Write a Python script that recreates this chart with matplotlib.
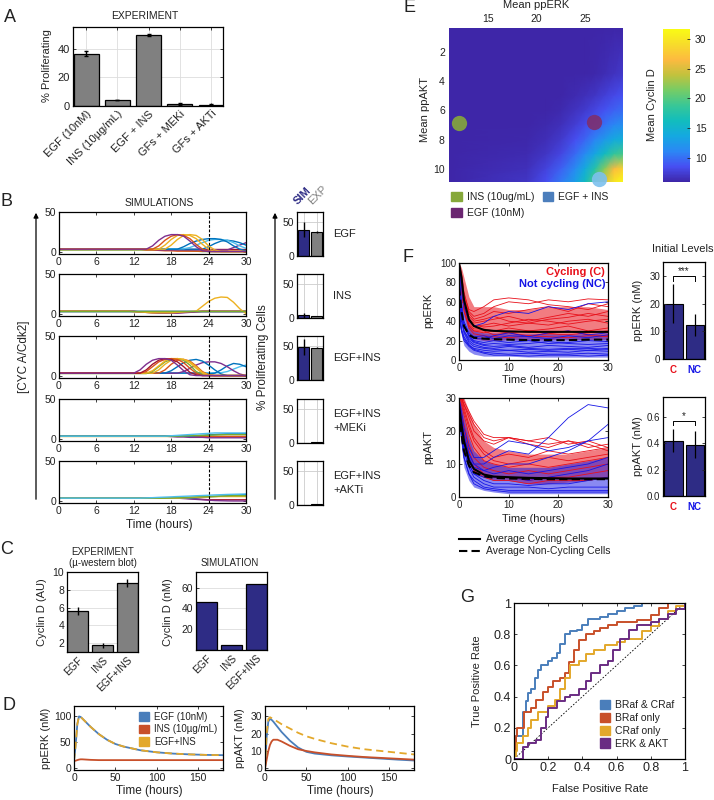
import numpy as np
import matplotlib
matplotlib.use('Agg')
import matplotlib.pyplot as plt
from matplotlib.patches import Patch
from matplotlib.lines import Line2D
from matplotlib.colors import LinearSegmentedColormap

plt.rcParams['font.family'] = ['Liberation Sans', 'DejaVu Sans']
plt.rcParams['font.size'] = 7.5
plt.rcParams['text.color'] = '#222222'
plt.rcParams['axes.labelcolor'] = '#222222'

# ---------------- data ----------------
# A
a_labels = ['EGF (10nM)', 'INS (10µg/mL)', 'EGF + INS', 'GFs + MEKi', 'GFs + AKTi']
a_values = [36.5, 4.0, 49.5, 1.5, 1.0]
a_err = [1.5, 0.0, 0.8, 0.5, 0.3]

# B (simulated CYC A/Cdk2 traces, hourly)
t_b = list(range(31))
b_egf = [
    [4] * 31,
    [3] * 20 + [2.5, 2, 1.5] + [1] * 8,
    [4] * 14 + [3, 3, 2.5, 2, 2, 1.5, 1.5, 1.5, 1.5, 1.5, 1.5, 1.5, 1.5, 1.5, 1.5, 1.5, 1.5],
    [4] * 16 + [3] * 12 + [6, 9, 12],
    [4] * 24 + [7, 11, 14, 15, 14, 12, 9],
    [4.5] * 21 + [6, 9, 12, 15, 16, 16, 15, 12, 8, 5],
    [4] * 20 + [7, 11, 14, 16, 17, 17, 16, 13, 8, 4, 2],
    [4] * 18 + [9, 16, 21, 22, 21, 16, 8, 3] + [1] * 5,
    [4] * 17 + [9, 16, 21, 22, 21, 17, 10, 4] + [1] * 6,
    [4] * 16 + [8, 15, 20, 22, 21, 17, 10, 4] + [1] * 7,
    [4] * 15 + [8, 15, 20, 22, 22, 20, 14, 7, 2] + [1] * 7,
]
b_egf_colors = ['#A2142F', '#77AC30', '#D95319', '#7E2F8E', '#0072BD', '#4DBEEE',
                '#0072BD', '#EDB120', '#EDB120', '#D95319', '#7E2F8E']
b_ins = [
    [4] * 31,
    [4.5] * 31,
    [4] * 31,
    [4] * 12 + [3.5, 3, 2.5, 2, 2, 2, 2, 2, 2.5, 3, 3.5, 4] + [4] * 7,
    [4] * 13 + [3, 2.5, 2, 1.5, 1.5, 1.5, 1.5, 2, 2.5, 3] + [3.5] * 8,
    [4] * 12 + [3.5, 3, 2.5, 2, 2, 2, 2, 2.5, 3, 3.5] + [4, 10, 16, 20, 21.5, 21, 15, 7, 1],
    [4] * 31,
]
b_ins_colors = ['#A2142F', '#4DBEEE', '#0072BD', '#D95319', '#7E2F8E', '#EDB120', '#77AC30']
b_egfins = [
    [4.5] * 27 + [6, 9, 12, 14],
    [4] * 24 + [3, 4, 8, 13, 16, 15, 12],
    [4] * 20 + [6, 10, 14, 17, 18, 18, 16, 12, 7, 3, 1],
    [4] * 18 + [7, 12, 17, 20, 21, 19, 14, 8, 3] + [1] * 4,
    [4] * 17 + [8, 15, 20, 21, 19, 13, 6, 2] + [1] * 6,
    [4] * 16 + [8, 15, 20, 22, 21, 18, 12, 5, 2] + [1] * 6,
    [3.5] * 15 + [6, 12, 18, 21, 22, 20, 14, 6, 2] + [1] * 7,
    [4] * 15 + [7, 13, 19, 22, 22, 21, 17, 10, 4] + [1] * 7,
    [4] * 14 + [6, 12, 18, 21, 22, 21, 17, 10, 4] + [1] * 8,
    [4] * 14 + [8, 15, 20, 22, 21, 18, 12, 5, 2] + [1] * 8,
    [4] * 13 + [8, 15, 20, 22, 22, 20, 14, 7, 2] + [1] * 9,
]
b_egfins_colors = ['#4DBEEE', '#0072BD', '#7E2F8E', '#0072BD', '#D95319', '#EDB120',
                   '#77AC30', '#EDB120', '#D95319', '#A2142F', '#7E2F8E']
b_meki = [
    [4] * 31,
    [4] * 22 + [3.5] * 9,
    [4] * 20 + [3.8, 3.6, 3.5, 3.5, 3.5, 3.5, 3.5, 3.5, 3.5, 3.5, 3.5],
    [4] * 18 + [3.5, 3, 3, 2.5, 2.5, 2.5, 2, 2, 2, 2, 2, 2, 2],
    [4] * 22 + [4.5, 5, 5.5, 6, 6.5, 7, 7, 7, 7],
    [4] * 20 + [4.2, 4.5, 4.8, 5, 5.2, 5.5, 5.7, 6, 6, 6, 6],
    [4] * 18 + [4.5, 5, 5.5, 6, 6.5, 7, 7.5, 8, 8, 8, 8, 8, 8],
]
b_meki_colors = ['#EDB120', '#A2142F', '#D95319', '#7E2F8E', '#0072BD', '#77AC30', '#4DBEEE']
b_akti = [
    [4] * 21 + [3.5, 3, 2.5, 2, 2, 2, 2, 2, 2, 2],
    [4] * 20 + [3.5, 3, 2.5, 2, 1.5, 1, 0.8, 0.6, 0.5, 0.5, 0.5],
    [4] * 22 + [4.5, 5, 5.5, 6, 6.5, 7, 7.5, 8, 8.5],
    [4] * 20 + [4.3, 4.6, 5, 5.3, 5.5, 5.8, 6, 6, 6, 6, 6],
    [4] * 18 + [4.3, 4.6, 5, 5.3, 5.6, 6, 6.2, 6.4, 6.6, 6.8, 7, 7, 7],
    [4] * 14 + [4.3, 4.6, 5, 5.3, 5.6, 6, 6.3, 6.6, 7, 7.3, 7.6, 8, 8.3, 8.6, 8.8, 9, 9.2],
]
b_akti_colors = ['#A2142F', '#7E2F8E', '#0072BD', '#EDB120', '#77AC30', '#4DBEEE']

b_conditions = ['EGF', 'INS', 'EGF+INS', 'EGF+INS\n+MEKi', 'EGF+INS\n+AKTi']
b_sim = [39, 4, 49, 0, 0]
b_sim_err = [11, 4, 12, 0, 0]
b_exp = [36, 3, 48, 1.5, 1]
b_exp_err = [1.5, 0.5, 1.0, 0.5, 0.3]

# C
c_labels = ['EGF', 'INS', 'EGF+INS']
c_exp = [5.6, 1.75, 8.8]
c_exp_err = [0.45, 0.25, 0.45]
c_sim = [46, 5, 63.5]

# D
t_d = [0, 2, 4, 6, 8, 10, 15, 20, 30, 40, 50, 60, 80, 100, 120, 140, 160, 180]
d_erk_egf = [15, 45, 85, 100, 99, 96, 88, 80, 66, 55, 47, 42, 35, 31, 28.5, 27, 26, 25.5]
d_erk_ins = [14, 15, 16, 17, 17.5, 17.5, 17, 16.5, 16, 16, 16, 16, 16, 16, 16, 16, 16, 16]
d_erk_both = [15, 45, 85, 100, 99, 96, 88, 80, 66, 55, 47, 42, 35, 31, 28.5, 27, 26, 25.5]
d_akt_egf = [0, 18, 27, 28.5, 28, 27, 24, 21, 16, 12, 9.5, 8.5, 7.5, 6.8, 6.2, 5.6, 5.0, 4.5]
d_akt_ins = [0, 5, 10, 13.5, 15.5, 16.5, 16.5, 15.5, 13, 11, 10, 9.2, 8, 7.2, 6.5, 6, 5.5, 5]
d_akt_both = [0, 20, 28.5, 29.5, 29, 28.5, 27, 25.5, 23, 20.5, 18.5, 17, 14.5, 12.5, 11, 10, 9, 8]
d_legend = ['EGF (10nM)', 'INS (10µg/mL)', 'EGF+INS']

# E
e_erk = [11, 19, 21, 22.5, 24, 25, 26, 27, 28, 29]
e_akt = [0.35, 3.5, 5, 6, 7, 8, 9, 10, 10.9]
e_cycd = [
    [6, 6, 6, 6, 6, 6, 6, 6, 6, 6],
    [6, 6, 6, 6, 6, 6, 6.1, 6.4, 6.8, 7.2],
    [6, 6, 6, 6, 6.3, 6.6, 7.0, 7.6, 8.2, 8.7],
    [6, 6, 6, 6.2, 6.8, 7.3, 8.0, 8.7, 9.4, 9.9],
    [6, 6, 6.2, 6.6, 7.5, 8.3, 9.2, 10.2, 11.2, 11.8],
    [6, 6.1, 6.5, 7.2, 8.5, 9.6, 11.0, 12.5, 13.8, 14.5],
    [6, 6.3, 7.0, 8.0, 9.8, 11.5, 13.5, 16.0, 18.5, 19.5],
    [6, 6.6, 7.8, 9.3, 11.5, 14.0, 17.5, 22.0, 26.5, 28.5],
    [6, 7.0, 8.5, 10.5, 13.0, 16.0, 20.0, 25.5, 30.0, 31.7],
]
e_points_erk = [12.0, 25.9, 26.4]
e_points_akt = [6.85, 6.8, 10.7]
e_point_names = ['INS (10ug/mL)', 'EGF (10nM)', 'EGF + INS']

# F
t_f = [0, 0.5, 1, 2, 3, 5, 7, 10, 14, 18, 22, 26, 30]
f_erk_red = [
    [100, 90, 70, 50, 45, 48, 55, 60, 58, 62, 60, 63, 62],
    [100, 85, 65, 48, 42, 45, 50, 48, 52, 55, 50, 58, 55],
    [100, 80, 60, 42, 38, 40, 42, 45, 40, 44, 48, 45, 50],
    [98, 75, 55, 40, 35, 36, 38, 35, 38, 36, 40, 42, 38],
    [100, 80, 58, 38, 32, 32, 30, 33, 30, 32, 35, 30, 33],
    [95, 70, 50, 35, 30, 28, 30, 28, 30, 27, 26, 28, 30],
    [100, 78, 55, 36, 30, 30, 26, 28, 25, 27, 30, 26, 25],
    [100, 85, 62, 45, 40, 42, 45, 40, 38, 42, 44, 48, 45],
    [100, 88, 68, 52, 50, 55, 62, 64, 62, 57, 55, 52, 58],
    [100, 82, 60, 40, 36, 34, 35, 38, 42, 40, 37, 40, 42],
    [100, 76, 52, 33, 27, 25, 24, 23, 25, 24, 23, 25, 24],
]
f_erk_blue = [
    [60, 40, 30, 22, 18, 15, 14, 15, 13, 15, 14, 13, 15],
    [80, 50, 35, 25, 20, 18, 20, 18, 20, 17, 18, 20, 19],
    [45, 30, 22, 15, 12, 10, 9, 10, 8, 9, 8, 10, 9],
    [70, 45, 30, 20, 16, 13, 12, 14, 12, 11, 12, 12, 11],
    [100, 60, 40, 28, 24, 25, 22, 25, 24, 22, 25, 23, 26],
    [50, 32, 24, 16, 11, 8, 7, 6, 7, 6, 6, 7, 6],
    [90, 55, 38, 26, 22, 22, 25, 28, 24, 28, 30, 26, 28],
    [55, 30, 20, 14, 10, 7, 5, 5, 4, 5, 5, 4, 5],
    [100, 75, 55, 40, 35, 38, 45, 50, 48, 55, 52, 58, 60],
    [65, 42, 28, 18, 14, 12, 11, 10, 11, 10, 11, 10, 12],
    [85, 52, 36, 24, 19, 16, 17, 16, 17, 19, 17, 16, 17],
]
f_erk_red_lo = [100, 70, 45, 28, 22, 20, 20, 21, 20, 21, 21, 21, 21]
f_erk_red_hi = [100, 95, 85, 65, 55, 55, 55, 52, 52, 55, 55, 55, 52]
f_erk_blue_lo = [40, 25, 15, 9, 6, 4, 4, 4, 3, 3, 3, 3, 3]
f_erk_blue_hi = [100, 70, 50, 36, 30, 28, 28, 27, 27, 27, 27, 27, 27]
f_erk_avg_c = [100, 85, 62, 42, 35, 31, 30, 29.5, 29, 29, 29, 29, 29]
f_erk_avg_nc = [75, 50, 35, 26, 23, 22, 21.5, 21, 20.5, 20.5, 20.5, 21, 21]

f_akt_red = [
    [32, 30, 28, 24, 20, 17, 16, 18, 17, 16, 17, 15, 16],
    [32, 30, 27, 22, 18, 14, 12, 13, 12, 14, 13, 14, 15],
    [32, 28, 25, 19, 15, 11, 10, 9, 10, 9, 10, 11, 12],
    [30, 26, 22, 16, 12, 9, 8, 7, 8, 7, 8, 9, 10],
    [30, 25, 20, 14, 10, 7, 6, 6, 5, 6, 6, 7, 8],
    [32, 29, 26, 21, 17, 13, 11, 10, 11, 12, 11, 12, 13],
    [28, 22, 17, 11, 8, 6, 5, 5, 4, 5, 5, 5, 6],
    [32, 30, 28, 25, 22, 18, 17, 18, 16, 15, 17, 16, 14],
    [32, 31, 29, 26, 23, 19, 18, 18, 17, 18, 16, 17, 15],
]
f_akt_blue = [
    [28, 20, 14, 9, 6, 4, 3, 3, 3, 2.5, 3, 3, 3],
    [30, 22, 16, 10, 7, 5, 4, 4, 3.5, 4, 4, 5, 6],
    [25, 18, 12, 7, 5, 3, 2.5, 2, 2, 2, 2, 2, 2],
    [30, 24, 19, 13, 10, 8, 7, 8, 7, 8, 9, 10, 12],
    [30, 26, 21, 15, 12, 12, 14, 17, 16, 14, 15, 17, 18],
    [28, 21, 15, 10, 7, 6, 6, 6, 5, 6, 7, 8, 10],
    [30, 24, 18, 13, 10, 10, 12, 14, 13, 18, 24, 28, 27],
    [26, 18, 12, 7, 4, 2.5, 2, 1.5, 1.5, 1.5, 1.5, 1.5, 1.5],
    [30, 23, 17, 12, 9, 8, 9, 10, 10, 12, 14, 17, 22],
]
f_akt_red_lo = [30, 24, 18, 11, 8, 6, 5, 5, 4, 4, 4.5, 5, 6]
f_akt_red_hi = [30, 30, 30, 26, 22, 17, 15, 14, 13, 13, 13, 14, 15]
f_akt_blue_lo = [24, 15, 9, 5, 3, 2, 1.5, 1, 1, 1, 1, 1, 1]
f_akt_blue_hi = [30, 28, 24, 18, 14, 11, 10, 9, 9, 9, 10, 11, 12]
f_akt_avg_c = [28, 22, 17, 11, 8.5, 6.8, 6.2, 6, 5.8, 5.7, 5.6, 5.6, 5.6]
f_akt_avg_nc = [26, 19, 14, 9.5, 7.5, 6.3, 5.8, 5.6, 5.5, 5.4, 5.4, 5.4, 5.4]

f_groups = ['C', 'NC']
f_erk_mean = [20, 12.2]
f_erk_err = [7, 4]
f_akt_mean = [0.42, 0.39]
f_akt_err = [0.09, 0.1]

# G (ROC curves)
g_names = ['BRaf & CRaf', 'BRaf only', 'CRaf only', 'ERK & AKT']
g_fpr_bc = [0, 0.01, 0.05, 0.07, 0.08, 0.10, 0.12, 0.14, 0.16, 0.20, 0.22, 0.25, 0.27, 0.30,
            0.33, 0.37, 0.40, 0.43, 0.50, 0.55, 0.60, 0.65, 0.70, 0.75, 1.0]
g_tpr_bc = [0.05, 0.15, 0.30, 0.37, 0.42, 0.45, 0.52, 0.57, 0.60, 0.63, 0.65, 0.68, 0.74, 0.80,
            0.82, 0.83, 0.86, 0.90, 0.91, 0.93, 0.95, 0.97, 0.98, 1.0, 1.0]
g_fpr_b = [0, 0.01, 0.02, 0.05, 0.06, 0.10, 0.13, 0.17, 0.20, 0.23, 0.27, 0.30, 0.32, 0.35,
           0.38, 0.42, 0.47, 0.50, 0.55, 0.60, 0.67, 0.72, 0.80, 0.85, 0.90, 1.0]
g_tpr_b = [0.05, 0.15, 0.20, 0.20, 0.30, 0.33, 0.38, 0.43, 0.46, 0.50, 0.52, 0.55, 0.62, 0.70,
           0.76, 0.80, 0.82, 0.84, 0.86, 0.88, 0.88, 0.89, 0.92, 0.97, 1.0, 1.0]
g_fpr_c = [0, 0.01, 0.02, 0.05, 0.08, 0.10, 0.14, 0.20, 0.24, 0.27, 0.30, 0.33, 0.38, 0.42,
           0.47, 0.53, 0.60, 0.65, 0.75, 0.80, 0.85, 0.90, 0.95, 1.0]
g_tpr_c = [0.02, 0.05, 0.10, 0.15, 0.20, 0.25, 0.30, 0.34, 0.38, 0.45, 0.52, 0.60, 0.63, 0.67,
           0.70, 0.73, 0.75, 0.77, 0.82, 0.85, 0.90, 0.95, 0.98, 1.0]
g_fpr_ea = [0, 0.04, 0.05, 0.08, 0.13, 0.16, 0.19, 0.20, 0.25, 0.30, 0.33, 0.38, 0.42, 0.45,
            0.50, 0.55, 0.58, 0.62, 0.67, 0.72, 0.80, 0.85, 0.90, 0.95, 1.0]
g_tpr_ea = [0.0, 0.0, 0.08, 0.10, 0.12, 0.20, 0.27, 0.33, 0.37, 0.40, 0.41, 0.45, 0.50, 0.55,
            0.60, 0.63, 0.70, 0.77, 0.83, 0.86, 0.88, 0.90, 0.93, 0.96, 1.0]

# ---------------- styles ----------------
GRAY = '#808080'
NAVY = '#2E2C85'
RED = '#E8101A'
BLUE = '#1515E6'
W, H = 714, 800

fig = plt.figure(figsize=(W / 100, H / 100), dpi=100)


def add_ax(x0, y0, x1, y1):
    return fig.add_axes([x0 / W, 1 - y1 / H, (x1 - x0) / W, (y1 - y0) / H])


def ftext(x, y, s, **kw):
    kw.setdefault('ha', 'center')
    kw.setdefault('va', 'center')
    return fig.text(x / W, 1 - y / H, s, **kw)


def box(ax, size):
    ax.tick_params(direction='in', top=True, right=True, labelsize=size,
                   length=2.5, width=0.6, pad=2, colors='#222222')
    for s in ax.spines.values():
        s.set_linewidth(0.9)


# ---------------- A ----------------
ax = add_ax(73, 27, 223, 106)
xa = np.arange(len(a_labels))
ax.set_axisbelow(True)
ax.grid(True, color='#dddddd', lw=0.6)
ax.bar(xa, a_values, 0.8, color=GRAY, edgecolor='black', lw=0.9)
ax.errorbar(xa, a_values, yerr=a_err, fmt='none', ecolor='black', elinewidth=1, capsize=1.5)
ax.set_xlim(-0.42, 4.38)
ax.set_ylim(0, 55)
ax.set_yticks([0, 20, 40])
ax.set_xticks(xa)
ax.set_xticklabels(a_labels, rotation=45, ha='right', rotation_mode='anchor')
box(ax, 8)
ftext(145, 16, 'EXPERIMENT', fontsize=7.5)
ftext(47, 66, '% Proliferating', rotation=90, fontsize=8)
ftext(10, 18, 'A', fontsize=13)

# ---------------- B ----------------
b_rows = [b_egf, b_ins, b_egfins, b_meki, b_akti]
b_row_colors = [b_egf_colors, b_ins_colors, b_egfins_colors, b_meki_colors, b_akti_colors]
b_tops = [212, 274, 336, 399, 461]
for i in range(5):
    top = b_tops[i]
    ax = add_ax(59, top, 246, top + 42)
    for vals, c in zip(b_rows[i], b_row_colors[i]):
        ax.plot(t_b, vals, color=c, lw=1.0)
    ax.axvline(24, color='k', lw=0.8, ls=(0, (2.5, 1.5)))
    ax.set_xlim(0, 30)
    ax.set_ylim(-2, 50)
    ax.set_xticks([0, 6, 12, 18, 24, 30])
    ax.set_yticks([0, 50])
    box(ax, 7.5)

    bx = add_ax(297, top, 323, top + 44)
    bx.set_axisbelow(True)
    bx.grid(True, color='#cccccc', lw=0.6)
    bx.bar([0], [b_sim[i]], 0.9, color=NAVY, edgecolor='k', lw=0.8)
    bx.bar([1], [b_exp[i]], 0.9, color=GRAY, edgecolor='k', lw=0.8)
    bx.errorbar([0, 1], [b_sim[i], b_exp[i]], yerr=[b_sim_err[i], b_exp_err[i]],
                fmt='none', ecolor='k', elinewidth=1, capsize=0)
    bx.set_xlim(-0.5, 1.5)
    bx.set_ylim(0, 65)
    bx.set_xticks([0, 1])
    bx.set_xticklabels([])
    bx.set_yticks([0, 50])
    box(bx, 7.5)
    bx.tick_params(length=0)
    ftext(333, top + 22, b_conditions[i], ha='left', fontsize=8, linespacing=1.4)

ftext(7, 202, 'B', fontsize=13)
ftext(159, 203, 'SIMULATIONS', fontsize=7.5)
ftext(159, 525, 'Time (hours)', fontsize=8.5)
ftext(303, 196, 'SIM', rotation=45, fontsize=8, color=NAVY, fontweight='bold')
ftext(318, 195, 'EXP', rotation=45, fontsize=8, color=GRAY)
for xp, lab, lx in [(36, '[CYC A/Cdk2]', 24), (275, '% Proliferating Cells', 263)]:
    fig.add_artist(matplotlib.patches.FancyArrowPatch(
        (xp / W, 1 - 502 / H), (xp / W, 1 - 210 / H), transform=fig.transFigure,
        arrowstyle='-|>', mutation_scale=7, lw=0.9, color='k'))
    ftext(lx, 357, lab, rotation=90, fontsize=8.5)

# ---------------- C ----------------
xc = np.arange(3)
ax = add_ax(67, 572, 138, 652)
ax.set_axisbelow(True)
ax.grid(True, axis='y', color='#dddddd', lw=0.6)
ax.bar(xc, c_exp, 0.82, color=GRAY, edgecolor='black', lw=0.9)
ax.errorbar(xc, c_exp, yerr=c_exp_err, fmt='none', ecolor='black', elinewidth=1, capsize=0)
ax.set_xlim(-0.42, 2.42)
ax.set_ylim(1, 10)
ax.set_yticks([2, 4, 6, 8, 10])
ax.set_xticks(xc)
ax.set_xticklabels(c_labels, rotation=45, ha='right', rotation_mode='anchor')
box(ax, 7.5)
ax.tick_params(axis='x', length=0)
ftext(42, 612, 'Cyclin D (AU)', rotation=90, fontsize=8)
ftext(103, 552, 'EXPERIMENT', fontsize=7)
ftext(103, 563, '(µ-western blot)', fontsize=7)

ax = add_ax(196, 572, 267, 650)
ax.set_axisbelow(True)
ax.grid(True, axis='y', color='#dddddd', lw=0.6)
ax.bar(xc, c_sim, 0.82, color=NAVY, edgecolor='black', lw=0.9)
ax.set_xlim(-0.42, 2.42)
ax.set_ylim(0, 75)
ax.set_yticks([20, 40, 60])
ax.set_xticks(xc)
ax.set_xticklabels(c_labels, rotation=45, ha='right', rotation_mode='anchor')
box(ax, 7.5)
ax.tick_params(axis='x', length=0)
ftext(168, 612, 'Cyclin D (nM)', rotation=90, fontsize=8)
ftext(230, 563, 'SIMULATION', fontsize=7)
ftext(7, 550, 'C', fontsize=13)

# ---------------- D ----------------
d_colors = ['#4A7EBB', '#C8502A', '#E3A82B']
ax = add_ax(74, 706, 223, 770)
ax.plot(t_d, d_erk_egf, color=d_colors[0], lw=1.3)
ax.plot(t_d, d_erk_ins, color=d_colors[1], lw=1.3)
ax.plot(t_d, d_erk_both, color=d_colors[2], lw=1.3, ls=(0, (4, 2.5)))
ax.set_xlim(0, 180)
ax.set_ylim(-3, 120)
ax.set_xticks([0, 50, 100, 150])
ax.set_yticks([0, 50, 100])
box(ax, 7.5)
ax.legend([Patch(color=c) for c in d_colors], d_legend, loc='upper right', frameon=False,
          fontsize=7, handlelength=1.0, handleheight=1.0, handletextpad=0.5,
          labelspacing=0.25, borderaxespad=0.2)
ftext(46, 738, 'ppERK (nM)', rotation=90, fontsize=8)
ftext(149, 791, 'Time (hours)', fontsize=8.5)

ax = add_ax(265, 706, 414, 770)
ax.plot(t_d, d_akt_egf, color=d_colors[0], lw=1.3)
ax.plot(t_d, d_akt_ins, color=d_colors[1], lw=1.3)
ax.plot(t_d, d_akt_both, color=d_colors[2], lw=1.3, ls=(0, (4, 2.5)))
ax.set_xlim(0, 180)
ax.set_ylim(-1, 36)
ax.set_xticks([0, 50, 100, 150])
ax.set_yticks([0, 10, 20, 30])
box(ax, 7.5)
ftext(240, 738, 'ppAKT (nM)', rotation=90, fontsize=8)
ftext(340, 791, 'Time (hours)', fontsize=8.5)
ftext(9, 705, 'D', fontsize=13)

# ---------------- E ----------------
parula = LinearSegmentedColormap.from_list('parula', [
    (0.00, (0.2422, 0.1504, 0.6603)), (0.10, (0.2780, 0.3100, 0.9500)),
    (0.20, (0.1700, 0.5300, 0.9600)), (0.30, (0.0800, 0.6600, 0.8800)),
    (0.40, (0.0700, 0.7400, 0.7400)), (0.50, (0.2200, 0.7800, 0.5900)),
    (0.60, (0.4600, 0.8000, 0.4000)), (0.70, (0.7600, 0.7600, 0.2400)),
    (0.80, (0.9900, 0.7300, 0.2500)), (0.90, (0.9700, 0.8600, 0.1700)),
    (1.00, (0.9769, 0.9839, 0.0805))])
ax = add_ax(449, 28, 623, 182)
im = ax.pcolormesh(e_erk, e_akt, np.array(e_cycd), shading='gouraud', cmap=parula,
                   vmin=5.9, vmax=31.7)
ax.set_xlim(11, 28.9)
ax.set_ylim(10.9, 0.35)
ax.xaxis.tick_top()
ax.set_xticks([15, 20, 25])
ax.set_yticks([2, 4, 6, 8, 10])
ax.tick_params(direction='out', length=0, labelsize=7.5, pad=3, colors='#222222')
for s in ax.spines.values():
    s.set_visible(False)
e_marker_colors = ['#86A83A', '#7E2F6E', '#7CC0EE']
for xe, ye, c in zip(e_points_erk, e_points_akt, e_marker_colors):
    ax.plot([xe], [ye], 'o', ms=11, color=c, mec='none', alpha=0.9, clip_on=False)
ftext(536, 5, 'Mean ppERK', fontsize=8)
ftext(425, 110, 'Mean ppAKT', rotation=90, fontsize=8)
cax = add_ax(663, 29, 690, 182)
cb = fig.colorbar(im, cax=cax)
cb.set_ticks([10, 15, 20, 25, 30])
cb.outline.set_visible(False)
cax.tick_params(direction='in', length=2.5, width=0.6, labelsize=7.5, colors='#222222')
ftext(652, 105, 'Mean Cyclin D', rotation=90, fontsize=8)
e_leg_colors = ['#86A83A', '#6B2671', '#4C7EBC']
fig.legend([Patch(color=e_leg_colors[0]), Patch(color=e_leg_colors[1]), Patch(color=e_leg_colors[2])],
           [e_point_names[0], e_point_names[1], e_point_names[2]], ncol=2,
           loc='upper left', bbox_to_anchor=(447 / W, 1 - 188 / H), frameon=False,
           fontsize=7.5, handlelength=1.0, handleheight=1.0, handletextpad=0.5,
           columnspacing=0.8, labelspacing=0.5, borderaxespad=0)
ftext(410, 8, 'E', fontsize=13)


# ---------------- F ----------------
def traces(ax, reds, blues, rlo, rhi, blo, bhi, avg_c, avg_nc):
    ax.fill_between(t_f, rlo, rhi, color=RED, alpha=0.55, lw=0)
    ax.fill_between(t_f, blo, bhi, color=BLUE, alpha=0.5, lw=0)
    for v in reds:
        ax.plot(t_f, v, color=RED, lw=0.6)
    for v in blues:
        ax.plot(t_f, v, color=BLUE, lw=0.6)
    ax.plot(t_f, avg_c, color='k', lw=1.5)
    ax.plot(t_f, avg_nc, color='k', lw=1.5, ls=(0, (4, 2)))
    ax.set_xlim(0, 30)
    ax.set_xticks([0, 10, 20, 30])
    box(ax, 7)


ax = add_ax(459, 263, 608, 360)
traces(ax, f_erk_red, f_erk_blue, f_erk_red_lo, f_erk_red_hi, f_erk_blue_lo, f_erk_blue_hi,
       f_erk_avg_c, f_erk_avg_nc)
ax.set_ylim(0, 100)
ax.set_yticks([0, 20, 40, 60, 80, 100])
ax.text(0.98, 0.91, 'Cycling (C)', transform=ax.transAxes, ha='right', va='center',
        color=RED, fontweight='bold', fontsize=8)
ax.text(0.98, 0.78, 'Not cycling (NC)', transform=ax.transAxes, ha='right', va='center',
        color=BLUE, fontweight='bold', fontsize=8)
ftext(428, 310, 'ppERK', rotation=90, fontsize=8)
ftext(533, 380, 'Time (hours)', fontsize=8)

ax = add_ax(459, 398, 608, 497)
traces(ax, f_akt_red, f_akt_blue, f_akt_red_lo, f_akt_red_hi, f_akt_blue_lo, f_akt_blue_hi,
       f_akt_avg_c, f_akt_avg_nc)
ax.set_ylim(0, 30)
ax.set_yticks([0, 10, 20, 30])
ftext(428, 447, 'ppAKT', rotation=90, fontsize=8)
ftext(533, 519, 'Time (hours)', fontsize=8)
fig.legend([Line2D([], [], color='k', lw=1.5), Line2D([], [], color='k', lw=1.5, ls=(0, (4, 2)))],
           ['Average Cycling Cells', 'Average Non-Cycling Cells'], loc='upper left',
           bbox_to_anchor=(455 / W, 1 - 530 / H), frameon=False, fontsize=7.5,
           handlelength=2.0, handletextpad=0.6, labelspacing=0.2, borderaxespad=0)


def sig_bars(ax, means, errs, ylim, yticks, br_y, br_tick, stars):
    ax.bar([0, 1], means, 0.86, color=NAVY, edgecolor='k', lw=0.8)
    ax.errorbar([0, 1], means, yerr=errs, fmt='none', ecolor='k', elinewidth=0.9, capsize=0)
    ax.plot([0, 0, 1, 1], [br_tick, br_y, br_y, br_tick], color='k', lw=0.7)
    ax.text(0.5, br_y, stars, ha='center', va='bottom', fontsize=7)
    ax.set_xlim(-0.48, 1.48)
    ax.set_ylim(*ylim)
    ax.set_yticks(yticks)
    ax.set_xticks([0, 1])
    ax.set_xticklabels(f_groups, fontweight='bold', fontsize=8)
    box(ax, 7)
    ax.tick_params(axis='x', length=0, pad=4)
    ax.get_xticklabels()[0].set_color(RED)
    ax.get_xticklabels()[1].set_color(BLUE)


ax = add_ax(663, 262, 705, 359)
sig_bars(ax, f_erk_mean, f_erk_err, (0, 35), [0, 10, 20, 30], 29.8, 28.2, '***')
ftext(638, 310, 'ppERK (nM)', rotation=90, fontsize=8)
ax = add_ax(663, 397, 705, 496)
sig_bars(ax, f_akt_mean, f_akt_err, (0, 0.75), [0, 0.2, 0.4, 0.6], 0.57, 0.54, '*')
ftext(638, 446, 'ppAKT (nM)', rotation=90, fontsize=8)
ftext(683, 249, 'Initial Levels', fontsize=8)
ftext(408, 258, 'F', fontsize=13)

# ---------------- G ----------------
g_colors = ['#4A7EBB', '#C8502A', '#E3A82B', '#6A2C83']
ax = add_ax(514, 603, 685, 759)
ax.plot([0, 1], [0, 1], color='k', lw=0.6, ls=(0, (2, 2)))
for fx, ty, c in zip([g_fpr_bc, g_fpr_b, g_fpr_c, g_fpr_ea], [g_tpr_bc, g_tpr_b, g_tpr_c, g_tpr_ea], g_colors):
    ax.plot(fx, ty, color=c, lw=1.4, drawstyle='steps-post')
ax.set_xlim(0, 1)
ax.set_ylim(0, 1)
g_ticks = [0, 0.2, 0.4, 0.6, 0.8, 1]
g_ticklabels = ['0', '0.2', '0.4', '0.6', '0.8', '1']
ax.set_xticks(g_ticks)
ax.set_xticklabels(g_ticklabels)
ax.set_yticks(g_ticks)
ax.set_yticklabels(g_ticklabels)
box(ax, 9)
ax.legend([Patch(color=c) for c in g_colors], g_names, loc='lower right', frameon=False,
          fontsize=7.5, handlelength=1.0, handleheight=1.0, handletextpad=0.5,
          labelspacing=0.25, borderaxespad=0.6)
ftext(477, 681, 'True Positive Rate', rotation=90, fontsize=8)
ftext(600, 789, 'False Positive Rate', fontsize=8)
ftext(467, 598, 'G', fontsize=13)

fig.savefig('out.png', dpi=100)
